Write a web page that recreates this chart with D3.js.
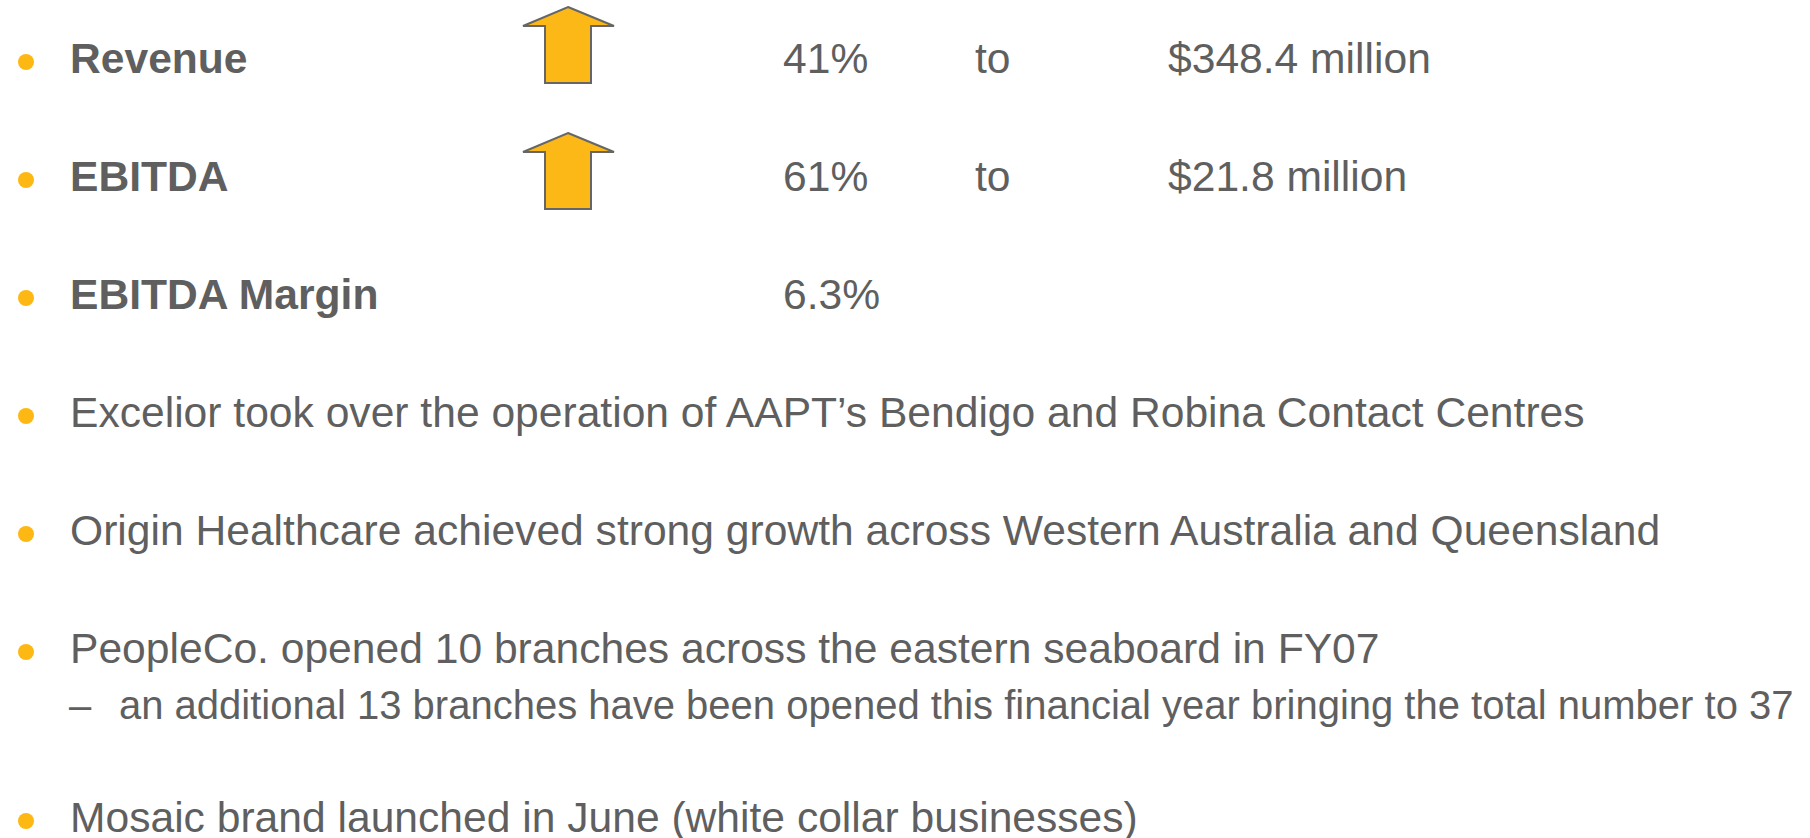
<!DOCTYPE html>
<html>
<head>
<meta charset="utf-8">
<script src="https://cdn.jsdelivr.net/npm/d3@7"></script>
<style>
  html, body { margin: 0; padding: 0; background: #fff; }
</style>
</head>
<body>
<div id="slide"></div>
<script>
// headline figures
const metrics = ["Revenue", "EBITDA", "EBITDA Margin"];
const changes = ["41%", "61%", "6.3%"];
const connectors = ["to", "to", ""];
const totals = ["$348.4 million", "$21.8 million", ""];
const isUp = [true, true, false];

// other bullet points (level 2 = sub-point)
const notes = [
  "Excelior took over the operation of AAPT\u2019s Bendigo and Robina Contact Centres",
  "Origin Healthcare achieved strong growth across Western Australia and Queensland",
  "PeopleCo. opened 10 branches across the eastern seaboard in FY07",
  "an additional 13 branches have been opened this financial year bringing the total number to 37",
  "Mosaic brand launched in June (white collar businesses)"
];
const noteLevels = [1, 1, 1, 2, 1];

const width = 1810, height = 838;
const textColor = "#5f5f5f", bulletColor = "#fdb813", arrowFill = "#fbb817";
const font = "'Liberation Sans', Arial, Helvetica, sans-serif";

const svg = d3.select("#slide")
  .append("svg")
    .attr("width", width)
    .attr("height", height);

// row baselines for the metric rows
const yRow = d3.scaleLinear().domain([0, 2]).range([73, 309]);
// arrow tops
const yArrow = d3.scaleLinear().domain([0, 1]).range([7, 133]);
// columns
const x = d3.scaleOrdinal()
  .domain(["bullet", "label", "arrow", "change", "to", "total"])
  .range([26, 70, 568, 783, 975, 1168]);

const head = svg.append("g");

head.selectAll("circle")
  .data(metrics)
  .join("circle")
    .attr("cx", x("bullet"))
    .attr("cy", (d, i) => yRow(i) - 11)
    .attr("r", 8)
    .attr("fill", bulletColor);

head.selectAll("text.label")
  .data(metrics)
  .join("text")
    .attr("class", "label")
    .attr("x", x("label"))
    .attr("y", (d, i) => yRow(i))
    .style("font-family", font)
    .style("font-size", "42.6px")
    .style("font-weight", "bold")
    .attr("fill", textColor)
    .text(d => d);

// up arrows: tip, head 46 wide each side, shaft 23 each side
const arrow = d3.line();
head.selectAll("path.arrow")
  .data(isUp.map((u, i) => ({u, i})).filter(d => d.u))
  .join("path")
    .attr("class", "arrow")
    .attr("d", d => {
      const cx = x("arrow"), t = yArrow(d.i);
      return arrow([
        [cx, t], [cx + 46, t + 19], [cx + 23, t + 19], [cx + 23, t + 76],
        [cx - 23, t + 76], [cx - 23, t + 19], [cx - 45, t + 19]
      ]) + "Z";
    })
    .attr("fill", arrowFill)
    .attr("stroke", "#666")
    .attr("stroke-width", 2)
    .attr("stroke-linejoin", "miter");

[["change", changes], ["to", connectors], ["total", totals]].forEach(([col, arr]) => {
  head.selectAll("text." + col)
    .data(arr)
    .join("text")
      .attr("class", col)
      .attr("x", x(col))
      .attr("y", (d, i) => yRow(i))
      .style("font-family", font)
      .style("font-size", "42.6px")
      .attr("fill", textColor)
      .text(d => d);
});

// lower bullet list: baselines
const noteY = [427, 545, 663, 719, 832];
const low = svg.append("g");

notes.forEach((t, i) => {
  const lvl = noteLevels[i];
  if (lvl === 1) {
    low.append("circle")
      .attr("cx", x("bullet"))
      .attr("cy", noteY[i] - 11)
      .attr("r", 8)
      .attr("fill", bulletColor);
    low.append("text")
      .attr("x", x("label"))
      .attr("y", noteY[i])
      .style("font-family", font)
      .style("font-size", "42.6px")
      .attr("fill", textColor)
      .text(t);
  } else {
    low.append("text")
      .attr("x", 69)
      .attr("y", noteY[i])
      .style("font-family", font)
      .style("font-size", "40px")
      .attr("fill", textColor)
      .text("\u2013");
    low.append("text")
      .attr("x", 119)
      .attr("y", noteY[i])
      .style("font-family", font)
      .style("font-size", "40px")
      .attr("fill", textColor)
      .text(t);
  }
});
</script>
</body>
</html>
